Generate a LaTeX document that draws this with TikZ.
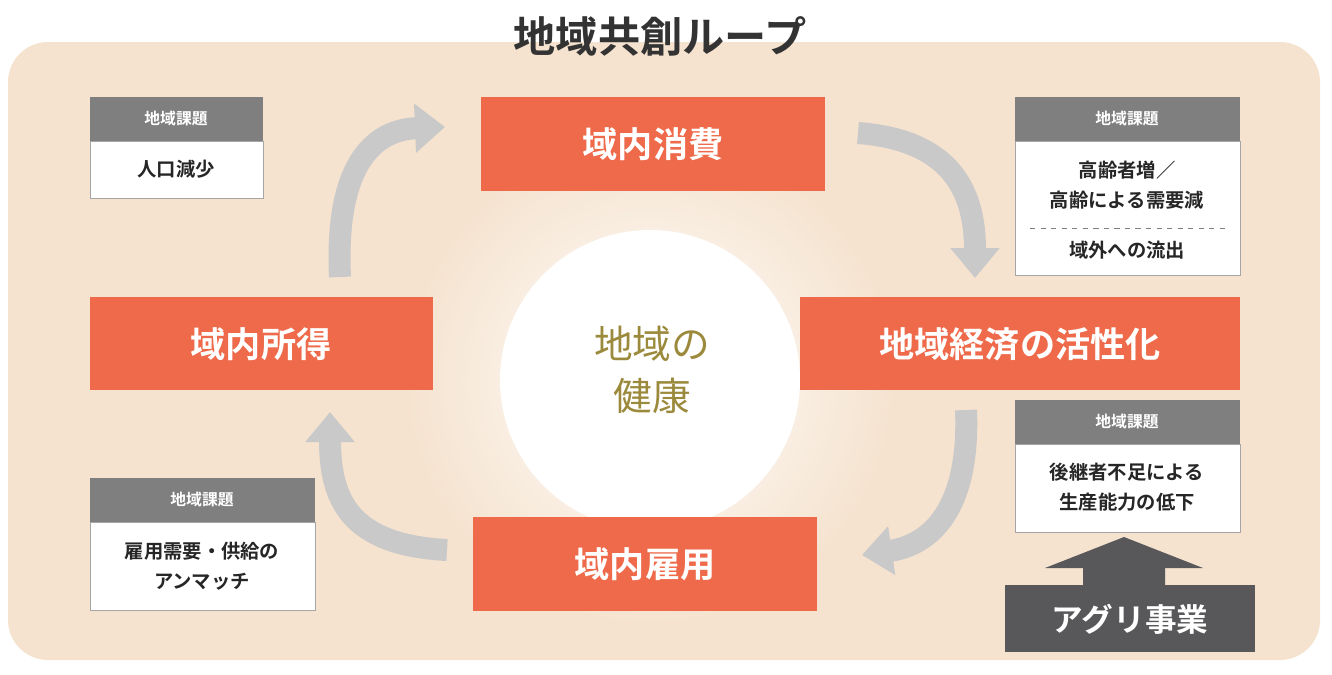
\documentclass[tikz,border=0pt]{standalone}
\usepackage{fontspec}
\setmainfont{Noto Sans CJK JP}[BoldFont={Noto Sans CJK JP Bold}]
\usetikzlibrary{arrows.meta}
\definecolor{bgbeige}{HTML}{F5E3CF}
\definecolor{loopred}{HTML}{EE6A4A}
\definecolor{hdgray}{HTML}{7F7F80}
\definecolor{arrgray}{HTML}{C9C9C9}
\definecolor{agridark}{HTML}{58585A}
\definecolor{olive}{HTML}{9C8A3C}
\begin{document}
\begin{tikzpicture}[x=0.02cm,y=-0.02cm]
\tikzset{
	stage/.style={fill=loopred, text=white, font=\bfseries\fontsize{20}{24}\selectfont},
	issuehead/.style={fill=hdgray, text=white, font=\bfseries\fontsize{9}{11}\selectfont},
	issuebody/.style={draw=hdgray!70, fill=white, line width=0.5pt},
	issuetext/.style={font=\bfseries\fontsize{11}{17}\selectfont, text=black!85, align=center},
	loop/.style={arrgray, line width=0.44cm, -{Triangle[width=0.95cm,length=0.6cm]}}
}
\useasboundingbox (0,0) rectangle (1332,674);
% background
\fill[bgbeige, rounded corners=0.8cm] (8,42) rectangle (1320,660);
\shade[inner color=white, outer color=bgbeige] (650,380) circle [radius=245];
\fill[white] (650,380) circle [radius=150];
\node[font=\bfseries\fontsize{24}{28}\selectfont, text=black!80] (TITLE) at (660,36) {地域共創ループ};
\node[font=\fontsize{22}{30}\selectfont, text=olive, align=center] (HEALTH) at (652,370) {地域の\\健康};

% stages
\fill[loopred] (481,97) rectangle (825,191); \node[stage] (SHOHI) at (653,144) {域内消費};
\fill[loopred] (800,297) rectangle (1240,390); \node[stage] (KEIZAI) at (1020,344) {地域経済の活性化};
\fill[loopred] (473,517) rectangle (817,611); \node[stage] (KOYO) at (645,564) {域内雇用};
\fill[loopred] (90,297) rectangle (433,390); \node[stage] (SHOTOKU) at (261,344) {域内所得};

% loop arrows
\coordinate (a1) at (340,277); \coordinate (b1) at (445,127);
\coordinate (a2) at (858,133); \coordinate (b2) at (975,278);
\coordinate (a3) at (966,410); \coordinate (b3) at (862,555);
\coordinate (a4) at (447,550); \coordinate (b4) at (330,412);
\draw[loop] (a1) .. controls (335,170) and (370,130) .. (b1);
\draw[loop] (a2) .. controls (950,140) and (975,190) .. (b2);
\draw[loop] (a3) .. controls (970,510) and (930,545) .. (b3);
\draw[loop] (a4) .. controls (350,545) and (330,500) .. (b4);

% issues
\fill[issuebody] (90,141) rectangle (263,198); \fill[hdgray] (90,97) rectangle (263,141);
\node[issuehead] (H1) at (176,119) {地域課題};
\node[issuetext] (T1) at (176,169) {人口減少};

\fill[issuebody] (1015,141) rectangle (1240,275); \fill[hdgray] (1015,97) rectangle (1240,141);
\node[issuehead] (H2) at (1127,119) {地域課題};
\node[issuetext] (T2) at (1127,185) {高齢者増／\\高齢による需要減};
\draw[dashed, hdgray, line width=0.4pt] (1030,228) -- (1225,228);
\node[issuetext] (T2b) at (1127,250) {域外への流出};

\fill[issuebody] (1015,444) rectangle (1240,532); \fill[hdgray] (1015,400) rectangle (1240,444);
\node[issuehead] (H3) at (1127,422) {地域課題};
\node[issuetext] (T3) at (1127,487) {後継者不足による\\生産能力の低下};

\fill[issuebody] (90,522) rectangle (315,610); \fill[hdgray] (90,478) rectangle (315,522);
\node[issuehead] (H4) at (202,500) {地域課題};
\node[issuetext] (T4) at (202,566) {雇用需要・供給の\\アンマッチ};

% agri
\fill[agridark] (1005,585) rectangle (1255,652);
\node[font=\bfseries\fontsize{18}{22}\selectfont, text=white] (AGRI) at (1130,619) {アグリ事業};
\fill[agridark] (1083,586) -- (1083,568) -- (1045,568) -- (1124,537) -- (1203,568) -- (1165,568) -- (1165,586) -- cycle;
\end{tikzpicture}
\end{document}
